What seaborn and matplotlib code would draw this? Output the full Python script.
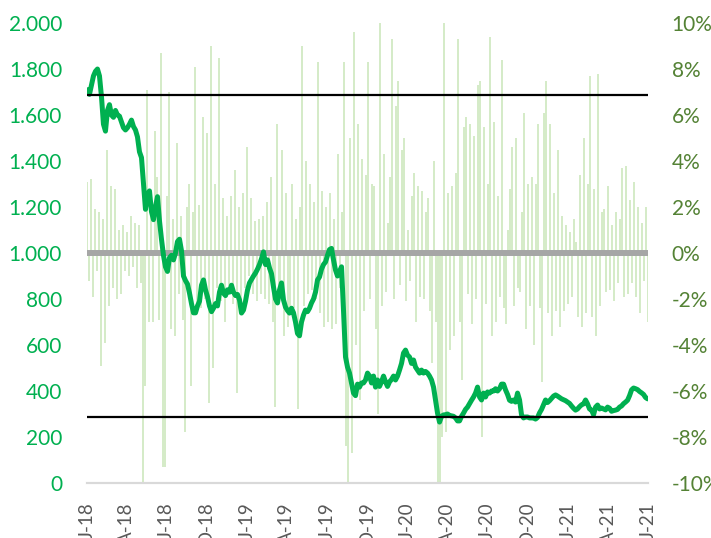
import pandas as pd
import numpy as np
import matplotlib
matplotlib.use("Agg")
import matplotlib.pyplot as plt
import matplotlib.ticker as mticker
import matplotlib.dates as mdates
import seaborn as sns

# Price series (left axis), read at regular steps along the chart
price = [
    1710, 1690, 1730, 1770, 1790, 1800, 1770, 1680, 1560, 1530,
    1620, 1645, 1600, 1590, 1620, 1600, 1595, 1570, 1545, 1535,
    1545, 1560, 1578, 1550, 1535, 1505, 1440, 1415, 1300, 1190,
    1255, 1270, 1180, 1145, 1200, 1245, 1140, 1060, 990, 940,
    920, 980, 990, 970, 1000, 1050, 1060, 1010, 900, 880,
    865, 826, 780, 740, 740, 770, 790, 860, 883, 840,
    810, 770, 745, 760, 780, 770, 830, 860, 825, 815,
    840, 830, 860, 830, 815, 820, 796, 739, 752, 790,
    839, 870, 885, 900, 913, 930, 950, 975, 1005, 950,
    970, 935, 910, 852, 800, 783, 839, 870, 796, 765,
    750, 739, 760, 740, 700, 650, 640, 700, 730, 752,
    745, 760, 783, 800, 830, 883, 896, 930, 950, 961,
    990, 1015, 1020, 970, 926, 900, 920, 940, 750, 548,
    504, 478, 435, 391, 380, 430, 417, 435, 435, 448,
    478, 465, 435, 465, 417, 448, 420, 440, 465, 440,
    420, 440, 450, 465, 448, 465, 491, 520, 565, 578,
    556, 548, 520, 535, 504, 491, 478, 491, 478, 485,
    478, 465, 448, 417, 361, 304, 265, 290, 296, 297,
    300, 294, 292, 290, 283, 270, 270, 290, 304, 320,
    330, 345, 360, 374, 391, 417, 374, 361, 391, 374,
    396, 391, 400, 400, 410, 400, 410, 430, 430, 405,
    385, 360, 355, 361, 352, 391, 361, 296, 283, 287,
    287, 283, 283, 283, 278, 285, 305, 320, 340, 361,
    350, 358, 368, 378, 383, 378, 372, 366, 362, 358,
    352, 346, 335, 325, 317, 322, 332, 340, 344, 361,
    344, 322, 317, 297, 330, 339, 322, 326, 322, 318,
    330, 325, 312, 315, 317, 320, 330, 335, 345, 352,
    360, 380, 405, 413, 410, 406, 398, 392, 385, 372,
    366,
]

# Daily returns (right axis, %), sampled at the same steps
returns = [
    3.1, -1.2, 3.2, -1.9, 1.9, -0.8, 1.8, -4.9, 1.5, -3.9,
    4.5, -2.3, 2.9, -1.5, 2.8, -2.0, 1.0, -1.8, 1.2, -0.8,
    0.9, -1.0, 1.6, -0.6, 1.3, -1.5, 1.2, -1.3, -10.0, -5.8,
    7.1, -3.0, 2.3, -3.0, 5.3, 3.3, -2.9, 8.7, -9.3, -9.3,
    2.5, 7.0, -3.3, 1.5, -3.6, 4.8, -1.8, 1.6, -2.9, -7.8,
    2.0, 3.0, -5.8, 1.8, 8.1, -2.5, 2.1, -2.4, 5.9, -2.0,
    5.2, -6.5, 9.0, -5.0, 3.0, -1.5, 8.5, -2.1, 2.4, -3.0,
    1.6, -1.8, 2.5, -2.2, 3.6, -6.1, 2.0, -2.0, 2.6, -1.5,
    4.6, -1.0, 2.4, -1.8, 1.4, -2.1, 1.5, -1.8, 1.6, -2.0,
    2.2, -2.2, 3.3, -3.0, -6.7, 5.6, -1.5, 4.5, -3.6, 2.6,
    -3.2, -2.5, 3.0, -2.4, 1.5, -6.8, 2.0, 9.0, -2.3, 4.0,
    -1.8, 3.0, -1.6, 2.2, -2.0, 8.3, -2.6, 2.7, -3.2, 2.0,
    -3.0, 2.6, -3.3, 1.5, -3.1, 4.3, -1.5, 1.8, 8.3, -8.4,
    -10.0, 5.0, -8.7, 9.6, -4.0, 5.6, -6.4, 4.1, -2.5, 3.4,
    8.3, -2.0, 3.0, 2.9, -3.3, -7.0, 10.0, -2.3, 4.3, -1.7,
    1.3, 3.3, 9.3, -2.0, 6.4, 7.5, -1.4, 4.5, 5.0, -2.1,
    1.0, -1.2, 2.5, 3.5, -3.0, 2.9, -1.9, 2.7, -2.0, 1.8,
    2.4, -2.5, -4.8, 4.0, -3.0, -10.0, -10.0, -8.0, 10.0, -7.8,
    2.6, -4.2, 2.9, -3.6, 3.5, 9.3, -3.0, -5.5, 5.5, 5.9,
    -1.8, 5.6, -3.1, 5.1, -2.0, 7.3, 7.5, -8.0, 5.5, -2.2,
    3.0, 9.4, -3.6, 5.7, -3.0, 2.5, -1.9, 8.4, -2.4, -3.1,
    1.0, 2.8, 4.6, -2.3, 5.0, -1.5, -1.7, 1.8, 6.1, -3.3,
    3.0, -2.3, 3.3, -4.0, 3.0, 5.6, -2.4, -5.6, 6.1, 7.5,
    -2.6, 5.6, -3.6, 2.6, -2.5, 4.5, -3.2, 1.6, -2.5, 1.2,
    -2.2, 0.9, -1.9, 1.5, 0.5, -2.8, 3.4, -3.2, 5.0, -2.6,
    3.0, 7.7, -2.8, 2.8, -3.6, 7.8, -2.3, 1.8, 1.9, -1.7,
    2.9, -1.6, 1.2, -2.1, 1.8, -1.3, 1.5, 3.7, -1.9, 3.8,
    -1.8, 2.3, -1.3, 3.1, -1.9, 2.0, -2.6, 1.3, -1.2, 2.0,
    -3.0,
]

band_high = 1685
band_low = 285

tick_dates = pd.date_range("2018-01-01", "2021-07-01", freq="QS")
month_letter = {1: "J", 4: "A", 7: "J", 10: "O"}
tick_labels = [f"{month_letter[d.month]}-{d.strftime('%y')}" for d in tick_dates]

df_price = pd.DataFrame({
    "date": pd.date_range("2018-01-02", "2021-06-30", periods=len(price)),
    "price": price,
})
df_ret = pd.DataFrame({
    "date": pd.date_range("2018-01-02", "2021-06-30", periods=len(returns)),
    "ret": returns,
})

sns.set_theme(style="white")
plt.rcParams["font.family"] = ["Lato", "DejaVu Sans"]

fig, ax_r = plt.subplots(figsize=(7.11, 5.38), dpi=100)
fig.subplots_adjust(left=0.1224, right=0.9114, top=0.9572, bottom=0.1022)

# Returns bars (drawn first so they sit behind the price line)
xnum = mdates.date2num(df_ret["date"].dt.to_pydatetime())
step = xnum[1] - xnum[0]
ax_r.bar(xnum, df_ret["ret"].values, width=step, color="#D5EBC8",
         edgecolor="none", linewidth=0, zorder=1)
ax_r.axhline(0, color="#A6A6A6", lw=4.3, zorder=2)
ax_r.set_ylim(-10, 10)

# Price line on the twin axis
ax_l = ax_r.twinx()
sns.lineplot(data=df_price, x="date", y="price", ax=ax_l, color="#00B050", lw=3.6, zorder=3)
ax_l.axhline(band_high, color="black", lw=1.6, zorder=4)
ax_l.axhline(band_low, color="black", lw=1.6, zorder=4)
ax_l.set_ylim(0, 2000)
ax_l.set_xlabel("")
ax_l.set_ylabel("")

# swap sides: price ticks on the left, returns on the right
ax_r.yaxis.tick_right()
ax_l.yaxis.tick_left()

ax_r.yaxis.set_major_locator(mticker.MultipleLocator(2))
ax_r.yaxis.set_major_formatter(mticker.FuncFormatter(lambda v, p: f"{v:.0f}%"))
ax_r.tick_params(axis="y", colors="#548235", labelsize=15, length=0, pad=17,
                 labelright=True, labelleft=False)

ax_l.yaxis.set_major_locator(mticker.MultipleLocator(200))
ax_l.yaxis.set_major_formatter(mticker.FuncFormatter(lambda v, p: f"{v:,.0f}".replace(",", ".")))
ax_l.tick_params(axis="y", colors="#00B050", labelsize=15, length=0, pad=18,
                 labelleft=True, labelright=False)

ax_r.set_xlim(mdates.date2num(tick_dates[0]), mdates.date2num(tick_dates[-1]))
ax_r.set_xticks(mdates.date2num(tick_dates.to_pydatetime()))
ax_r.set_xticklabels(tick_labels, rotation=90)
ax_r.tick_params(axis="x", colors="#595959", labelsize=13.5, length=0, pad=14)

for a in (ax_r, ax_l):
    for side in ("top", "left", "right"):
        a.spines[side].set_visible(False)
    a.spines["bottom"].set_color("#D9D9D9")
    a.spines["bottom"].set_linewidth(1.5)

fig.savefig("out.png", dpi=100)
